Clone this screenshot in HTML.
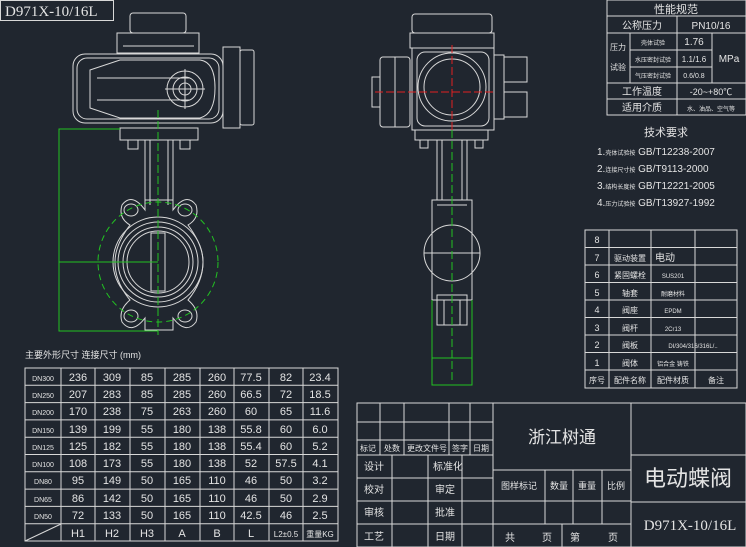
<!DOCTYPE html>
<html><head><meta charset="utf-8"><style>
html,body{margin:0;padding:0;background:#20262f;}
svg{display:block}
text{font-family:"Liberation Sans","Noto Sans CJK SC",sans-serif;fill:#e4e4e4}
.s{font-family:"Liberation Serif","Noto Serif CJK SC",serif}
</style></head><body>
<svg width="746" height="547" viewBox="0 0 746 547" xmlns="http://www.w3.org/2000/svg">
<rect width="746" height="547" fill="#20262f"/>
<g fill="none" stroke="#d8d8d8" stroke-width="1">
<!-- title box top-left -->
<rect x="0.5" y="0.5" width="113" height="20"/>
<!-- LEFT VALVE -->
<rect x="130" y="13" width="56" height="20" rx="3"/>
<rect x="117" y="33" width="82" height="20"/>
<line x1="123" y1="46" x2="194" y2="46"/>
<rect x="73" y="54" width="150" height="69" rx="12"/>
<rect x="77" y="58" width="142" height="61" rx="10"/>
<path d="M90 70 L120 60 L200 60 Q215 62 215 88 Q215 114 200 118 L120 118 L90 108 Z"/>
<line x1="97" y1="78" x2="190" y2="78"/>
<line x1="97" y1="100" x2="190" y2="100"/>
<rect x="223" y="47" width="17" height="81"/>
<rect x="240" y="50" width="14" height="75" rx="2"/>
<circle cx="185" cy="89" r="18"/>
<circle cx="185" cy="89" r="12"/>
<circle cx="185" cy="89" r="6"/>
<line x1="165" y1="89" x2="205" y2="89"/>
<line x1="185" y1="69" x2="185" y2="109"/>
<rect x="120" y="128" width="78" height="12"/>
<rect x="128" y="140" width="10" height="9"/><rect x="180" y="140" width="10" height="9"/>
<rect x="145" y="140" width="28" height="60"/>
<line x1="150" y1="140" x2="150" y2="205"/><line x1="168" y1="140" x2="168" y2="205"/>
<path d="M145 200 L145 210 Q132 192 122 205 Q118 218 130 225 Q115 245 115 262 Q115 282 130 300 Q118 310 122 322 Q132 335 145 318 L145 330 L173 330 L173 318 Q186 335 196 322 Q200 310 188 300 Q203 282 203 262 Q203 245 188 225 Q200 218 196 205 Q186 192 173 210 L173 200 Z"/>
<ellipse cx="131" cy="210" rx="7" ry="6"/><ellipse cx="185" cy="210" rx="7" ry="6"/>
<ellipse cx="131" cy="316" rx="7" ry="6"/><ellipse cx="185" cy="316" rx="7" ry="6"/>
<circle cx="158" cy="262" r="45"/>
<circle cx="158" cy="262" r="40"/>
<circle cx="158" cy="262" r="35"/>
<circle cx="158" cy="262" r="31"/>
<rect x="151" y="233" width="14" height="58"/>
<!-- RIGHT VALVE -->
<rect x="412" y="14" width="80" height="19" rx="3"/>
<rect x="410" y="33" width="84" height="15"/>
<rect x="412" y="48" width="82" height="82"/>
<rect x="417" y="52" width="72" height="74" rx="8"/>
<circle cx="452" cy="87" r="34"/>
<circle cx="452" cy="87" r="28"/>
<rect x="380" y="57" width="30" height="70" rx="3"/>
<line x1="395" y1="57" x2="395" y2="127"/>
<rect x="372" y="77" width="8" height="30"/>
<rect x="494" y="55" width="10" height="64"/>
<rect x="504" y="57" width="23" height="25"/><rect x="504" y="92" width="23" height="25"/>
<rect x="415" y="130" width="73" height="10"/>
<rect x="420" y="140" width="8" height="8"/><rect x="475" y="140" width="8" height="8"/>
<rect x="437" y="140" width="30" height="60"/>
<line x1="442" y1="140" x2="442" y2="200"/><line x1="462" y1="140" x2="462" y2="200"/>
<rect x="432" y="200" width="40" height="100"/>
<line x1="437" y1="205" x2="467" y2="205"/>
<circle cx="452" cy="253" r="28"/>
<line x1="424" y1="253" x2="480" y2="253"/>
<rect x="437" y="295" width="30" height="30"/>
<rect x="444" y="300" width="16" height="25"/>
<!-- DIMENSION TABLE -->
<rect x="25" y="368" width="313" height="173"/>
<g id="hl"></g>
</g>
<g stroke="#d8d8d8" stroke-width="1">
<line x1="25" y1="385.3" x2="338" y2="385.3"/><line x1="25" y1="402.6" x2="338" y2="402.6"/>
<line x1="25" y1="419.9" x2="338" y2="419.9"/><line x1="25" y1="437.2" x2="338" y2="437.2"/>
<line x1="25" y1="454.5" x2="338" y2="454.5"/><line x1="25" y1="471.8" x2="338" y2="471.8"/>
<line x1="25" y1="489.1" x2="338" y2="489.1"/><line x1="25" y1="506.4" x2="338" y2="506.4"/>
<line x1="25" y1="523.7" x2="338" y2="523.7"/>
<line x1="61" y1="368" x2="61" y2="541"/><line x1="95" y1="368" x2="95" y2="541"/>
<line x1="130" y1="368" x2="130" y2="541"/><line x1="165" y1="368" x2="165" y2="541"/>
<line x1="200" y1="368" x2="200" y2="541"/><line x1="234" y1="368" x2="234" y2="541"/>
<line x1="269" y1="368" x2="269" y2="541"/><line x1="303" y1="368" x2="303" y2="541"/>
<line x1="25" y1="541" x2="61" y2="524"/>
<!-- title block -->
<rect x="357" y="403" width="389" height="144" fill="none"/>
<line x1="493" y1="403" x2="493" y2="547"/><line x1="631" y1="403" x2="631" y2="547"/>
<line x1="357" y1="422" x2="493" y2="422"/><line x1="357" y1="440" x2="493" y2="440"/>
<line x1="357" y1="455" x2="493" y2="455"/><line x1="357" y1="478" x2="493" y2="478"/>
<line x1="357" y1="501" x2="493" y2="501"/><line x1="357" y1="524" x2="493" y2="524"/>
<line x1="380" y1="403" x2="380" y2="455"/><line x1="404" y1="403" x2="404" y2="455"/>
<line x1="449" y1="403" x2="449" y2="455"/><line x1="470" y1="403" x2="470" y2="455"/>
<line x1="392" y1="455" x2="392" y2="547"/><line x1="428" y1="455" x2="428" y2="547"/>
<line x1="462" y1="455" x2="462" y2="547"/>
<line x1="493" y1="470" x2="631" y2="470"/><line x1="493" y1="501" x2="631" y2="501"/>
<line x1="493" y1="524" x2="631" y2="524"/>
<line x1="545" y1="470" x2="545" y2="524"/><line x1="573" y1="470" x2="573" y2="524"/>
<line x1="602" y1="470" x2="602" y2="524"/><line x1="562" y1="524" x2="562" y2="547"/>
<line x1="631" y1="455" x2="746" y2="455"/><line x1="631" y1="502" x2="746" y2="502"/>
<!-- spec table -->
<rect x="607" y="0" width="139" height="115" fill="none"/>
<line x1="607" y1="16" x2="746" y2="16"/><line x1="607" y1="33" x2="746" y2="33"/>
<line x1="607" y1="83" x2="746" y2="83"/><line x1="607" y1="99" x2="746" y2="99"/>
<line x1="677" y1="16" x2="677" y2="115"/><line x1="630" y1="33" x2="630" y2="83"/>
<line x1="712" y1="33" x2="712" y2="83"/>
<line x1="630" y1="50" x2="712" y2="50"/><line x1="630" y1="67" x2="712" y2="67"/>
<!-- parts table -->
<rect x="585" y="230" width="152" height="158" fill="none"/>
<line x1="609" y1="230" x2="609" y2="388"/><line x1="651" y1="230" x2="651" y2="388"/>
<line x1="695" y1="230" x2="695" y2="388"/>
<line x1="585" y1="247.5" x2="737" y2="247.5"/><line x1="585" y1="265" x2="737" y2="265"/>
<line x1="585" y1="282.5" x2="737" y2="282.5"/><line x1="585" y1="300" x2="737" y2="300"/>
<line x1="585" y1="317.5" x2="737" y2="317.5"/><line x1="585" y1="335" x2="737" y2="335"/>
<line x1="585" y1="352.5" x2="737" y2="352.5"/><line x1="585" y1="370" x2="737" y2="370"/>
</g>
<!-- green dims -->
<g fill="none" stroke="#22c322" stroke-width="1">
<polyline points="120,129 59,129 59,331 158,331"/>
<line x1="59" y1="262" x2="158" y2="262"/>
<circle cx="158" cy="262" r="60" stroke-dasharray="6,4"/>
<line x1="158" y1="110" x2="158" y2="335" stroke-dasharray="8,3"/>
<line x1="452" y1="130" x2="452" y2="380" stroke-dasharray="8,3"/>
<polyline points="432,300 432,385 472,385 472,300"/>
<line x1="432" y1="358" x2="472" y2="358"/>
</g>
<g stroke="#e02020" stroke-width="1" stroke-dasharray="8,3">
<line x1="375" y1="92" x2="494" y2="92"/><line x1="452" y1="45" x2="452" y2="130"/>
</g>
<!-- texts -->
<text x="5" y="16" class="s" font-size="15">D971X-10/16L</text>
<text x="25" y="358" font-size="9">主要外形尺寸  连接尺寸 (mm)</text>
<g font-size="11" text-anchor="middle">
<text x="43" y="381" font-size="7">DN300</text><text x="78" y="381">236</text><text x="112" y="381">309</text><text x="147" y="381">85</text><text x="182" y="381">285</text><text x="217" y="381">260</text><text x="251" y="381">77.5</text><text x="286" y="381">82</text><text x="320" y="381">23.4</text>
<text x="43" y="398" font-size="7">DN250</text><text x="78" y="398">207</text><text x="112" y="398">283</text><text x="147" y="398">85</text><text x="182" y="398">285</text><text x="217" y="398">260</text><text x="251" y="398">66.5</text><text x="286" y="398">72</text><text x="320" y="398">18.5</text>
<text x="43" y="415" font-size="7">DN200</text><text x="78" y="415">170</text><text x="112" y="415">238</text><text x="147" y="415">75</text><text x="182" y="415">263</text><text x="217" y="415">260</text><text x="251" y="415">60</text><text x="286" y="415">65</text><text x="320" y="415">11.6</text>
<text x="43" y="433" font-size="7">DN150</text><text x="78" y="433">139</text><text x="112" y="433">199</text><text x="147" y="433">55</text><text x="182" y="433">180</text><text x="217" y="433">138</text><text x="251" y="433">55.8</text><text x="286" y="433">60</text><text x="320" y="433">6.0</text>
<text x="43" y="450" font-size="7">DN125</text><text x="78" y="450">125</text><text x="112" y="450">182</text><text x="147" y="450">55</text><text x="182" y="450">180</text><text x="217" y="450">138</text><text x="251" y="450">55.4</text><text x="286" y="450">60</text><text x="320" y="450">5.2</text>
<text x="43" y="467" font-size="7">DN100</text><text x="78" y="467">108</text><text x="112" y="467">173</text><text x="147" y="467">55</text><text x="182" y="467">180</text><text x="217" y="467">138</text><text x="251" y="467">52</text><text x="286" y="467">57.5</text><text x="320" y="467">4.1</text>
<text x="43" y="484" font-size="7">DN80</text><text x="78" y="484">95</text><text x="112" y="484">149</text><text x="147" y="484">50</text><text x="182" y="484">165</text><text x="217" y="484">110</text><text x="251" y="484">46</text><text x="286" y="484">50</text><text x="320" y="484">3.2</text>
<text x="43" y="502" font-size="7">DN65</text><text x="78" y="502">86</text><text x="112" y="502">142</text><text x="147" y="502">50</text><text x="182" y="502">165</text><text x="217" y="502">110</text><text x="251" y="502">46</text><text x="286" y="502">50</text><text x="320" y="502">2.9</text>
<text x="43" y="519" font-size="7">DN50</text><text x="78" y="519">72</text><text x="112" y="519">133</text><text x="147" y="519">50</text><text x="182" y="519">165</text><text x="217" y="519">110</text><text x="251" y="519">42.5</text><text x="286" y="519">46</text><text x="320" y="519">2.5</text>
<text x="78" y="537">H1</text><text x="112" y="537">H2</text><text x="147" y="537">H3</text><text x="182" y="537">A</text><text x="217" y="537">B</text><text x="251" y="537">L</text><text x="286" y="537" font-size="8">L2±0.5</text><text x="320" y="537" font-size="8">重量KG</text>
</g>
<g font-size="8" text-anchor="middle">
<text x="368" y="451">标记</text><text x="392" y="451">处数</text><text x="427" y="451">更改文件号</text><text x="460" y="451">签字</text><text x="481" y="451">日期</text>
<text x="374" y="470" font-size="10">设计</text><text x="448" y="470" font-size="10">标准化</text>
<text x="374" y="493" font-size="10">校对</text><text x="445" y="493" font-size="10">审定</text>
<text x="374" y="516" font-size="10">审核</text><text x="445" y="516" font-size="10">批准</text>
<text x="374" y="540" font-size="10">工艺</text><text x="445" y="540" font-size="10">日期</text>
<text x="562" y="443" font-size="17">浙江树通</text>
<text x="519" y="489" font-size="9">图样标记</text><text x="559" y="489" font-size="9">数量</text><text x="587" y="489" font-size="9">重量</text><text x="616" y="489" font-size="9">比例</text>
<text x="510" y="541" font-size="10">共</text><text x="547" y="541" font-size="10">页</text><text x="575" y="541" font-size="10">第</text><text x="613" y="541" font-size="10">页</text>
<text x="688" y="486" font-size="22">电动蝶阀</text>
<text x="690" y="530" font-size="15" class="s">D971X-10/16L</text>
<text x="676" y="13" font-size="11">性能规范</text>
<text x="642" y="29" font-size="10">公称压力</text><text x="711" y="29" font-size="10">PN10/16</text>
<text x="618" y="50" font-size="8">压力</text><text x="618" y="70" font-size="8">试验</text>
<text x="653" y="45" font-size="6">壳体试验</text><text x="694" y="45" font-size="10">1.76</text>
<text x="653" y="62" font-size="6">水压密封试验</text><text x="694" y="62" font-size="8">1.1/1.6</text>
<text x="653" y="78" font-size="6">气压密封试验</text><text x="694" y="78" font-size="7">0.6/0.8</text>
<text x="729" y="62" font-size="10">MPa</text>
<text x="642" y="95" font-size="10">工作温度</text><text x="711" y="95" font-size="9">-20~+80℃</text>
<text x="642" y="111" font-size="10">适用介质</text><text x="711" y="111" font-size="6">水、油品、空气等</text>
<text x="666" y="136" font-size="11">技术要求</text>
</g>
<g font-size="10">
<text x="597" y="155">1.<tspan font-size="6">壳体试验按</tspan> GB/T12238-2007</text>
<text x="597" y="172">2.<tspan font-size="6">连接尺寸按</tspan> GB/T9113-2000</text>
<text x="597" y="189">3.<tspan font-size="6">结构长度按</tspan> GB/T12221-2005</text>
<text x="597" y="206">4.<tspan font-size="6">压力试验按</tspan> GB/T13927-1992</text>
</g>
<g font-size="9" text-anchor="middle">
<text x="597" y="243">8</text>
<text x="597" y="261">7</text><text x="630" y="261" font-size="8">驱动装置</text><text x="665" y="261" font-size="10">电动</text>
<text x="597" y="278">6</text><text x="630" y="278" font-size="8">紧固螺栓</text><text x="673" y="278" font-size="6">SUS201</text>
<text x="597" y="296">5</text><text x="630" y="296" font-size="8">轴套</text><text x="673" y="296" font-size="6">耐磨材料</text>
<text x="597" y="313">4</text><text x="630" y="313" font-size="8">阀座</text><text x="673" y="313" font-size="6">EPDM</text>
<text x="597" y="331">3</text><text x="630" y="331" font-size="8">阀杆</text><text x="673" y="331" font-size="6">2Cr13</text>
<text x="597" y="348">2</text><text x="630" y="348" font-size="8">阀板</text><text x="693" y="348" font-size="6">DI/304/316/316L/..</text>
<text x="597" y="366">1</text><text x="630" y="366" font-size="8">阀体</text><text x="673" y="366" font-size="6">铝合金 铸铁</text>
<text x="597" y="383" font-size="8">序号</text><text x="630" y="383" font-size="8">配件名称</text><text x="673" y="383" font-size="8">配件材质</text><text x="716" y="383" font-size="8">备注</text>
</g>
</svg>
</body></html>
